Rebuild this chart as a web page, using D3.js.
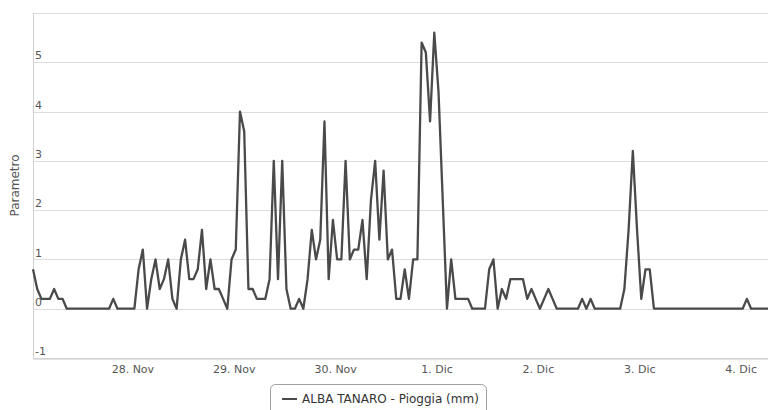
<!DOCTYPE html>
<html>
<head>
<meta charset="utf-8">
<script src="https://cdn.jsdelivr.net/npm/d3@7"></script>
<style>
  html, body { margin: 0; padding: 0; background: #fff; }
  svg { display: block; }
  text { font-family: "DejaVu Sans", Verdana, sans-serif; }
</style>
</head>
<body>
<svg id="chart" width="768" height="410"></svg>
<script>
// ---- data (hourly rain, mm) ----
const seriesName = "ALBA TANARO - Pioggia (mm)";
const startTime = new Date(2013, 10, 27, 0, 0, 0); // 27 Nov, 00:00
const stepHours = 1;
const rain = [
  0.8, 0.4, 0.2, 0.2, 0.2, 0.4, 0.2, 0.2, 0, 0,
  0, 0, 0, 0, 0, 0, 0, 0, 0, 0.2,
  0, 0, 0, 0, 0, 0.8, 1.2, 0, 0.6, 1.0,
  0.4, 0.6, 1.0, 0.2, 0, 1.0, 1.4, 0.6, 0.6, 0.8,
  1.6, 0.4, 1.0, 0.4, 0.4, 0.2, 0, 1.0, 1.2, 4.0,
  3.6, 0.4, 0.4, 0.2, 0.2, 0.2, 0.6, 3.0, 0.6, 3.0,
  0.4, 0, 0, 0.2, 0, 0.6, 1.6, 1.0, 1.4, 3.8,
  0.6, 1.8, 1.0, 1.0, 3.0, 1.0, 1.2, 1.2, 1.8, 0.6,
  2.2, 3.0, 1.4, 2.8, 1.0, 1.2, 0.2, 0.2, 0.8, 0.2,
  1.0, 1.0, 5.4, 5.2, 3.8, 5.6, 4.4, 2.2, 0, 1.0,
  0.2, 0.2, 0.2, 0.2, 0, 0, 0, 0, 0.8, 1.0,
  0, 0.4, 0.2, 0.6, 0.6, 0.6, 0.6, 0.2, 0.4, 0.2,
  0, 0.2, 0.4, 0.2, 0, 0, 0, 0, 0, 0,
  0.2, 0, 0.2, 0, 0, 0, 0, 0, 0, 0,
  0.4, 1.6, 3.2, 1.6, 0.2, 0.8, 0.8, 0, 0, 0,
  0, 0, 0, 0, 0, 0, 0, 0, 0, 0,
  0, 0, 0, 0, 0, 0, 0, 0, 0, 0.2,
  0, 0, 0, 0, 0
];
const yTicks = [-1, 0, 1, 2, 3, 4, 5, 6];
const yTickLabels = ["-1", "0", "1", "2", "3", "4", "5", ""];
const xTickDates = [
  new Date(2013, 10, 28), new Date(2013, 10, 29), new Date(2013, 10, 30),
  new Date(2013, 11, 1), new Date(2013, 11, 2), new Date(2013, 11, 3), new Date(2013, 11, 4)
];
const xTickLabels = ["28. Nov", "29. Nov", "30. Nov", "1. Dic", "2. Dic", "3. Dic", "4. Dic"];
const yTitle = "Parametro";

// ---- build ----
const points = rain.map((v, i) => ({
  t: new Date(startTime.getTime() + i * stepHours * 3600000),
  v: v
}));

const svg = d3.select("#chart");
const plotL = 33, plotR = 768, plotT = 13, plotB = 358;

const x = d3.scaleTime()
  .domain([startTime, points[points.length - 1].t])
  .range([plotL, plotR]);
const y = d3.scaleLinear().domain([-1, 6]).range([plotB, plotT]);

// gridlines
svg.append("g").selectAll("line").data(yTicks).join("line")
  .attr("x1", plotL).attr("x2", plotR)
  .attr("y1", d => Math.round(y(d)) + 0.5).attr("y2", d => Math.round(y(d)) + 0.5)
  .attr("stroke", "#dcdcdc").attr("stroke-width", 1);

// left axis line
svg.append("line")
  .attr("x1", plotL + 0.5).attr("x2", plotL + 0.5)
  .attr("y1", plotT).attr("y2", plotB)
  .attr("stroke", "#d0d0d0");

// x axis
const xAxis = d3.axisBottom(x)
  .tickValues(xTickDates)
  .tickFormat((d, i) => xTickLabels[i])
  .tickSize(0).tickPadding(7);
const gx = svg.append("g").attr("transform", `translate(0,${Math.round(plotB) + 0.5})`).call(xAxis);
gx.select(".domain").attr("stroke", "#c8c8c8");
gx.selectAll("text").attr("fill", "#555").attr("dx", "-2")
  .style("font-size", "11px")
  .style("font-family", '"DejaVu Sans", Verdana, sans-serif');

// y axis labels (inside, above gridlines)
const yAxis = d3.axisLeft(y).tickValues(yTicks)
  .tickFormat((d, i) => yTickLabels[i]).tickSize(0);
const gy = svg.append("g").attr("transform", `translate(${plotL},0)`).call(yAxis);
gy.select(".domain").remove();
gy.selectAll("text")
  .attr("text-anchor", "start").attr("x", 2).attr("dy", "-0.3em")
  .attr("fill", "#555").style("font-size", "11px")
  .style("font-family", '"DejaVu Sans", Verdana, sans-serif');

// y title
svg.append("text")
  .attr("transform", `translate(19,${(plotT + plotB) / 2}) rotate(-90)`)
  .attr("text-anchor", "middle")
  .attr("fill", "#555").style("font-size", "12px")
  .text(yTitle);

// line
const line = d3.line().x(d => x(d.t)).y(d => y(d.v));
svg.append("path").datum(points)
  .attr("d", line)
  .attr("fill", "none")
  .attr("stroke", "#4a4a4a")
  .attr("stroke-width", 2.3)
  .attr("stroke-linejoin", "round");

// legend
const lg = svg.append("g");
lg.append("rect")
  .attr("x", 270.5).attr("y", 384.5).attr("width", 216).attr("height", 34)
  .attr("rx", 5).attr("fill", "#fff").attr("stroke", "#a0a0a0");
lg.append("line")
  .attr("x1", 282).attr("x2", 297).attr("y1", 399).attr("y2", 399)
  .attr("stroke", "#4a4a4a").attr("stroke-width", 2);
lg.append("text")
  .attr("x", 302).attr("y", 403)
  .attr("fill", "#333").style("font-size", "12px")
  .text(seriesName);
</script>
</body>
</html>
